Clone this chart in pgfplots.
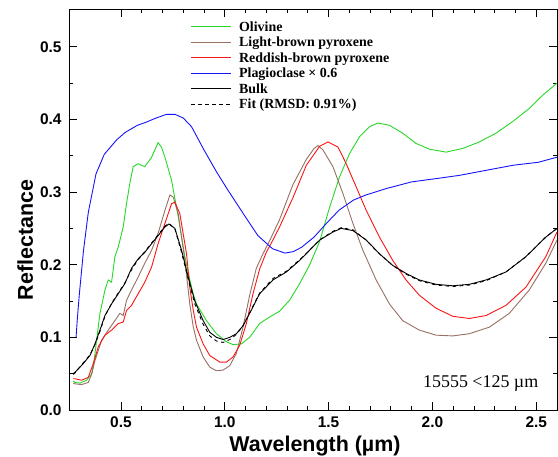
\documentclass[border=0pt]{standalone}
\usepackage{pgfplots}
\pgfplotsset{compat=1.18}
\usepackage{fontspec}
\setmainfont{Liberation Serif}
\setsansfont{Liberation Sans}

\definecolor{olv}{RGB}{40,215,40}
\definecolor{lbp}{RGB}{150,112,98}
\definecolor{rbp}{RGB}{250,20,20}
\definecolor{plg}{RGB}{20,20,250}
\newcommand{\lstrut}{\rule[-3bp]{0pt}{14bp}}

\begin{document}
\begin{tikzpicture}
\begin{axis}[
    scale only axis,
    width=488bp, height=401bp,
    xmin=0.25, xmax=2.6,
    ymin=0, ymax=0.552,
    xtick={0.5,1.0,1.5,2.0,2.5},
    ytick={0,0.1,0.2,0.3,0.4,0.5},
    minor x tick num=4,
    minor y tick num=1,
    tick align=inside,
    major tick length=8bp,
    minor tick length=4bp,
    tick style={black, line width=0.8bp},
    axis line style={line width=0.9bp},
    /pgf/number format/assume math mode=true,
    /pgf/number format/.cd, fixed, fixed zerofill, precision=1,
    /pgfplots/.cd,
    ticklabel style={font=\sffamily\bfseries\fontsize{15.5}{15.5}\selectfont},
    yticklabel style={xshift=-4bp},
    xticklabel style={yshift=-3bp},
    xlabel={Wavelength (µm)},
    ylabel={Reflectance},
    xlabel style={font=\sffamily\bfseries\fontsize{21.5}{21.5}\selectfont,
        at={(axis description cs:0.504,-0.104)}, anchor=base},
    ylabel style={font=\sffamily\bfseries\fontsize{21.5}{21.5}\selectfont,
        at={(axis description cs:-0.0738,0.424)}, anchor=base},
    legend style={at={(rel axis cs:0.249,0.976)}, anchor=north west,
        draw=none, fill=none, inner sep=0pt, column sep=6bp,
        font=\bfseries\fontsize{14}{14}\selectfont,
        nodes={font=\bfseries\fontsize{14}{14}\selectfont, inner sep=1.5bp}},
    legend cell align=left,
    legend image code/.code={\draw[#1] (0bp,0bp) -- (40bp,0bp);},
    every axis plot/.append style={line width=0.9bp},
]
% Olivine
\addplot[olv] coordinates {
(0.270,0.040)(0.279,0.038)(0.303,0.037)(0.335,0.041)(0.359,0.050)(0.372,0.070)
(0.383,0.096)(0.399,0.133)(0.423,0.165)(0.439,0.179)(0.455,0.176)(0.471,0.211)
(0.487,0.224)(0.511,0.252)(0.527,0.284)(0.543,0.312)(0.559,0.335)(0.583,0.339)
(0.615,0.335)(0.648,0.348)(0.679,0.368)(0.695,0.362)(0.712,0.348)(0.744,0.316)
(0.776,0.266)(0.808,0.211)(0.832,0.179)(0.848,0.160)(0.864,0.146)(0.912,0.123)
(0.960,0.105)(1.008,0.094)(1.040,0.090)(1.080,0.091)(1.120,0.100)(1.168,0.119)
(1.216,0.128)(1.264,0.136)(1.312,0.151)(1.361,0.174)(1.409,0.200)(1.457,0.232)
(1.505,0.279)(1.553,0.321)(1.601,0.353)(1.649,0.376)(1.697,0.390)(1.737,0.395)
(1.793,0.392)(1.857,0.381)(1.921,0.367)(1.986,0.359)(2.066,0.355)(2.145,0.360)
(2.226,0.369)(2.306,0.381)(2.386,0.397)(2.466,0.415)(2.530,0.433)(2.600,0.450)
};
\addlegendentry{\lstrut Olivine}
% Light-brown pyroxene
\addplot[lbp] coordinates {
(0.270,0.037)(0.279,0.036)(0.311,0.035)(0.343,0.038)(0.360,0.050)(0.375,0.068)
(0.407,0.096)(0.439,0.110)(0.471,0.123)(0.495,0.133)(0.511,0.130)(0.527,0.151)
(0.551,0.165)(0.583,0.183)(0.615,0.202)(0.648,0.220)(0.679,0.243)(0.712,0.275)
(0.736,0.296)(0.752,0.293)(0.776,0.270)(0.808,0.206)(0.832,0.145)(0.848,0.115)
(0.864,0.096)(0.896,0.073)(0.928,0.059)(0.960,0.054)(0.992,0.055)(1.024,0.061)
(1.056,0.078)(1.088,0.114)(1.120,0.158)(1.152,0.195)(1.184,0.215)(1.216,0.233)
(1.264,0.262)(1.328,0.310)(1.393,0.345)(1.430,0.360)(1.449,0.364)(1.473,0.358)
(1.521,0.335)(1.569,0.298)(1.617,0.257)(1.665,0.220)(1.729,0.179)(1.793,0.146)
(1.857,0.123)(1.937,0.110)(2.018,0.103)(2.098,0.102)(2.178,0.105)(2.274,0.114)
(2.370,0.133)(2.466,0.165)(2.546,0.202)(2.600,0.234)
};
\addlegendentry{\lstrut Light-brown pyroxene}
% Reddish-brown pyroxene
\addplot[rbp] coordinates {
(0.270,0.043)(0.279,0.043)(0.311,0.041)(0.343,0.045)(0.367,0.064)(0.391,0.087)
(0.423,0.103)(0.455,0.110)(0.487,0.119)(0.511,0.121)(0.527,0.137)(0.551,0.144)
(0.583,0.160)(0.615,0.176)(0.648,0.197)(0.679,0.229)(0.712,0.257)(0.744,0.284)
(0.760,0.286)(0.784,0.270)(0.816,0.215)(0.832,0.168)(0.848,0.138)(0.864,0.114)
(0.896,0.091)(0.928,0.075)(0.976,0.066)(1.008,0.066)(1.040,0.073)(1.072,0.089)
(1.104,0.119)(1.136,0.160)(1.168,0.194)(1.200,0.217)(1.232,0.234)(1.264,0.252)
(1.328,0.292)(1.393,0.337)(1.457,0.363)(1.497,0.369)(1.545,0.362)(1.585,0.339)
(1.633,0.307)(1.681,0.275)(1.745,0.238)(1.809,0.206)(1.873,0.179)(1.937,0.158)
(2.018,0.140)(2.098,0.129)(2.178,0.126)(2.258,0.130)(2.354,0.144)(2.450,0.169)
(2.546,0.211)(2.600,0.245)
};
\addlegendentry{\lstrut Reddish-brown pyroxene}
% Plagioclase x 0.6
\addplot[plg] coordinates {
(0.284,0.100)(0.290,0.125)(0.300,0.160)(0.320,0.220)(0.343,0.272)(0.380,0.325)
(0.420,0.352)(0.480,0.372)(0.520,0.382)(0.580,0.392)(0.620,0.396)(0.670,0.402)
(0.720,0.407)(0.760,0.407)(0.800,0.402)(0.840,0.390)(0.900,0.358)(0.960,0.328)
(1.010,0.305)(1.090,0.270)(1.160,0.240)(1.230,0.222)(1.290,0.216)(1.330,0.218)
(1.370,0.224)(1.430,0.238)(1.490,0.257)(1.550,0.275)(1.620,0.289)(1.680,0.296)
(1.780,0.305)(1.900,0.314)(2.030,0.319)(2.130,0.323)(2.260,0.330)(2.390,0.337)
(2.510,0.341)(2.600,0.348)
};
\addlegendentry{\lstrut Plagioclase × 0.6}
% Bulk
\addplot[black] coordinates {
(0.270,0.050)(0.279,0.052)(0.319,0.064)(0.351,0.075)(0.375,0.091)(0.399,0.110)
(0.423,0.130)(0.455,0.146)(0.487,0.160)(0.519,0.174)(0.551,0.195)(0.583,0.208)
(0.615,0.217)(0.648,0.229)(0.679,0.240)(0.712,0.252)(0.731,0.256)(0.760,0.250)
(0.792,0.220)(0.824,0.183)(0.856,0.150)(0.896,0.123)(0.928,0.107)(0.960,0.100)
(0.992,0.097)(1.024,0.100)(1.056,0.105)(1.088,0.116)(1.120,0.133)(1.168,0.160)
(1.232,0.179)(1.297,0.190)(1.361,0.206)(1.409,0.220)(1.457,0.234)(1.521,0.245)
(1.561,0.250)(1.617,0.247)(1.681,0.234)(1.745,0.215)(1.809,0.199)(1.873,0.188)
(1.937,0.179)(2.018,0.173)(2.098,0.171)(2.178,0.173)(2.258,0.179)(2.354,0.190)
(2.450,0.211)(2.546,0.238)(2.600,0.250)
};
\addlegendentry{\lstrut Bulk}
% Fit
\addplot[black, dash pattern=on 3.5bp off 3.5bp] coordinates {
(0.270,0.049)(0.279,0.051)(0.319,0.065)(0.351,0.076)(0.375,0.090)(0.399,0.108)
(0.423,0.129)(0.455,0.147)(0.487,0.161)(0.519,0.175)(0.551,0.193)(0.583,0.207)
(0.615,0.218)(0.648,0.230)(0.679,0.241)(0.712,0.253)(0.731,0.257)(0.760,0.249)
(0.792,0.217)(0.824,0.180)(0.856,0.146)(0.896,0.118)(0.928,0.102)(0.960,0.095)
(0.992,0.093)(1.024,0.097)(1.056,0.104)(1.088,0.116)(1.120,0.134)(1.168,0.161)
(1.232,0.181)(1.297,0.191)(1.361,0.207)(1.409,0.220)(1.457,0.234)(1.521,0.246)
(1.561,0.251)(1.617,0.248)(1.681,0.234)(1.745,0.215)(1.809,0.199)(1.873,0.187)
(1.937,0.178)(2.018,0.172)(2.098,0.170)(2.178,0.172)(2.258,0.178)(2.354,0.190)
(2.450,0.211)(2.546,0.238)(2.600,0.250)
};
\addlegendentry{\lstrut Fit (RMSD: 0.91\%)}
\node[anchor=east, font=\fontsize{18}{18}\selectfont, inner sep=0pt]
    at (rel axis cs:0.962,0.067) {15555 <125 µm};
\end{axis}
\pgfresetboundingbox
\path ([xshift=-69bp,yshift=-47bp]current axis.south west)
    rectangle ([xshift=1bp,yshift=9bp]current axis.north east);
\end{tikzpicture}
\end{document}
